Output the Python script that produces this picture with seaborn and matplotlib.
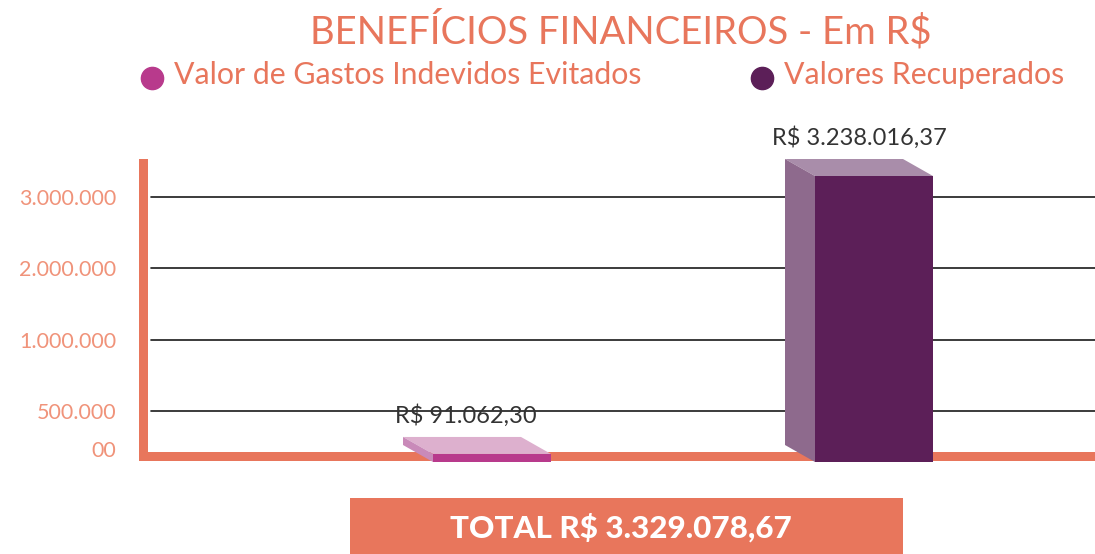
import matplotlib
matplotlib.use("Agg")
import matplotlib.pyplot as plt
import seaborn as sns
from matplotlib.patches import Polygon, Rectangle
from matplotlib.lines import Line2D
from matplotlib import font_manager as fm

# ---------------- data ----------------
categories = ["Valor de Gastos Indevidos Evitados", "Valores Recuperados"]
values = [91062.30, 3238016.37]
value_labels = ["R$ 91.062,30", "R$ 3.238.016,37"]
tick_values = [3000000, 2200000, 1380000, 580000, 150000]
tick_labels = ["3.000.000", "2.000.000", "1.000.000", "500.000", "00"]
grid_values = [3000000, 2200000, 1380000, 580000]
title = "BENEFÍCIOS FINANCEIROS - Em R$"
total_text = "TOTAL R$ 3.329.078,67"

# ---------------- style ----------------
front_colors = ["#B83A8C", "#5C1F58"]
side_colors = ["#C98AB9", "#8E6A8D"]
top_colors = ["#DDB0CE", "#A98DAA"]
coral = "#E8765C"
tick_color = "#F0937A"

sns.set_theme(style="white")
names = {f.name for f in fm.fontManager.ttflist}
base = "Lato" if "Lato" in names else "DejaVu Sans"
plt.rcParams["font.family"] = [base, "DejaVu Sans"]

W, H = 1095, 554
fig = plt.figure(figsize=(W / 100, H / 100), dpi=100)

# layout in pixels
ax_left, ax_right = 142.5, 1095
ax_bottom, ax_top = 455.5, 162.5
zero_px = 462.0
px_per_val = (462 - 176) / values[1]
x0_px, x_step_px = 492.0, 382.0

ax = fig.add_axes([ax_left / W, 1 - ax_bottom / H,
                   (ax_right - ax_left) / W, (ax_bottom - ax_top) / H])

sns.barplot(x=categories, y=values, hue=categories, palette=front_colors,
            width=118 / x_step_px, legend=False, ax=ax, zorder=4,
            saturation=1, edgecolor="none")

ax.set_xlim((ax_left - x0_px) / x_step_px, (ax_right - x0_px) / x_step_px)
ax.set_ylim((zero_px - ax_bottom) / px_per_val, (zero_px - ax_top) / px_per_val)

for p in ax.patches:
    p.set_clip_on(False)

# 3D faces
dx = -30 / x_step_px
dy = 17 / px_per_val
label_shift = [-8, 0]
for i, p in enumerate(ax.patches[:2]):
    x0 = p.get_x()
    x1 = x0 + p.get_width()
    top = p.get_height()
    topf = Polygon([(x0, top), (x1, top), (x1 + dx, top + dy), (x0 + dx, top + dy)],
                   closed=True, facecolor=top_colors[i], edgecolor="none",
                   zorder=4, clip_on=False)
    side = Polygon([(x0, 0), (x0, top), (x0 + dx, top + dy), (x0 + dx, dy)],
                   closed=True, facecolor=side_colors[i], edgecolor="none",
                   zorder=4, clip_on=False)
    ax.add_patch(topf)
    ax.add_patch(side)
    ax.annotate(value_labels[i], xy=(x0 + (x1 - x0) / 2 + dx / 2, top + dy),
                xytext=(label_shift[i], 7), textcoords="offset points", ha="center",
                va="bottom", fontsize=17, color="#333333", zorder=6,
                annotation_clip=False)

# gridlines
gx0 = (151 - ax_left) / (ax_right - ax_left)
for g in grid_values:
    ax.axhline(g, xmin=gx0, xmax=1, color="#1a1a1a", lw=1.2, zorder=1)

# spines
for s in ["top", "right"]:
    ax.spines[s].set_visible(False)
for s in ["left", "bottom"]:
    ax.spines[s].set_visible(True)
    ax.spines[s].set_color(coral)
    ax.spines[s].set_linewidth(9 * 72 / 100)
    ax.spines[s].set_capstyle("projecting")
    ax.spines[s].set_zorder(3)

ax.set_xticks([])
ax.set_xlabel("")
ax.set_yticks(tick_values)
ax.set_yticklabels(tick_labels)
ax.tick_params(axis="y", length=0, pad=19, labelsize=15.5, labelcolor=tick_color)
ax.grid(False)
ax.set_facecolor("white")

# title
fig.text(621 / W, 1 - 30 / H, title, ha="center", va="center",
         fontsize=27.5, color=coral, fontweight="normal")

# legend
leg_x = [152, 762]
leg_tx = [174, 784]
for i, c in enumerate(categories):
    fig.add_artist(Line2D([leg_x[i] / W], [1 - 78 / H], marker="o",
                          markersize=16, color=front_colors[i], lw=0,
                          transform=fig.transFigure))
    fig.text(leg_tx[i] / W, 1 - 75 / H, c, ha="left", va="center",
             fontsize=21.8, color=coral, fontweight="normal")

# total box
fig.add_artist(Rectangle((350 / W, 0), (903 - 350) / W, (554 - 498) / H,
                         transform=fig.transFigure, facecolor=coral,
                         edgecolor="none"))
fig.text(621 / W, 1 - 528 / H, total_text, ha="center", va="center",
         fontsize=22.6, color="white", fontweight="black")

fig.savefig("out.png", dpi=100)
